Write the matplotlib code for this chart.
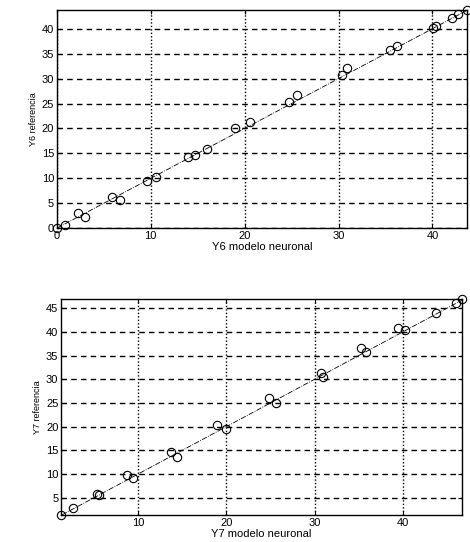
import matplotlib
matplotlib.use("Agg")
import matplotlib.pyplot as plt
import numpy as np

plt.rcParams['font.family'] = ['Liberation Sans', 'DejaVu Sans']

# Y6: modelo neuronal (x) vs referencia (y)
y6_modelo = [0.0, 0.85, 2.2, 3.0, 5.9, 6.7, 9.6, 10.6, 14.0, 14.7, 16.0,
             19.0, 20.6, 24.7, 25.6, 30.4, 30.9, 35.5, 36.2, 40.1, 40.4,
             42.1, 42.7, 43.7]
y6_referencia = [0.0, 0.6, 3.0, 2.3, 6.2, 5.6, 9.5, 10.3, 14.3, 14.7, 15.9,
                 20.1, 21.3, 25.4, 26.8, 30.8, 32.2, 35.8, 36.6, 40.2, 40.5,
                 42.2, 42.9, 43.8]

# Y7
y7_modelo = [1.3, 2.6, 5.4, 5.6, 8.8, 9.4, 13.8, 14.4, 19.0, 20.0, 24.8,
             25.6, 30.7, 31.0, 35.3, 35.8, 39.4, 40.2, 43.7, 46.0, 46.7]
y7_referencia = [1.4, 2.9, 5.8, 5.5, 9.8, 9.2, 14.7, 13.6, 20.4, 19.5, 26.0,
                 25.0, 31.3, 30.5, 36.6, 35.7, 40.8, 40.4, 44.0, 46.0, 46.9]

y6_xticks = [0, 10, 20, 30, 40]
y6_yticks = [0, 5, 10, 15, 20, 25, 30, 35, 40]
y7_xticks = [10, 20, 30, 40]
y7_yticks = [5, 10, 15, 20, 25, 30, 35, 40, 45]

fig = plt.figure(figsize=(4.7, 5.42), dpi=100)
ax1 = fig.add_axes([0.121, 0.579, 0.873, 0.403])
ax2 = fig.add_axes([0.130, 0.050, 0.853, 0.398])


def panel(ax, xm, yr, xticks, yticks, name):
    xm = np.array(xm)
    yr = np.array(yr)
    ref = np.sort(yr)
    ax.plot(ref, ref, color='black', lw=0.6, ls='-.', zorder=3)
    ax.plot(xm, yr, 'o', mfc='none', mec='black', ms=6, mew=0.8, zorder=4,
            clip_on=False)
    ax.set_xlim(xm.min(), xm.max())
    ax.set_ylim(yr.min(), yr.max())
    ax.set_xticks(xticks)
    ax.set_yticks(yticks)
    ax.grid(False)
    for t in yticks:
        ax.axhline(t, color='black', lw=1.0, ls=(0, (4, 3)), zorder=1)
    for t in xticks:
        ax.axvline(t, color='black', lw=1.0, ls=(0, (1, 1.5)), zorder=1)
    ax.tick_params(direction='in', length=3, labelsize=8, top=True,
                   right=True, pad=2)
    for s in ax.spines.values():
        s.set_linewidth(1.0)
        s.set_color('black')
    ax.set_xlabel(name + ' modelo neuronal', fontsize=8, labelpad=1)
    ax.set_ylabel(name + ' referencia', fontsize=6.5, labelpad=3)


panel(ax1, y6_modelo, y6_referencia, y6_xticks, y6_yticks, 'Y6')
panel(ax2, y7_modelo, y7_referencia, y7_xticks, y7_yticks, 'Y7')

fig.savefig('out.png', dpi=100)
